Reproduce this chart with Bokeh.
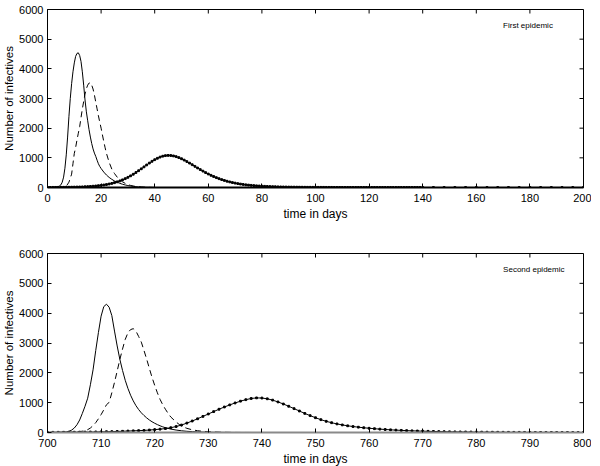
import math
from bokeh.plotting import figure
from bokeh.layouts import column
from bokeh.models import Label, FixedTicker, Range1d
from bokeh.embed import file_html
from bokeh.resources import INLINE

# ---------------- First epidemic (days 0-200) ----------------
t1_solid = [0, 1, 2, 3, 4, 4.5, 5, 5.5, 6, 6.5, 7, 7.5, 8, 8.5, 9, 9.5, 10, 10.5, 11, 11.5,
            12, 12.5, 13, 13.5, 14, 14.5, 15, 15.5, 16, 16.5, 17, 17.5, 18, 18.5, 19, 19.5, 20,
            21, 22, 23, 24, 25, 26, 27, 28, 29, 30, 31, 32, 33, 34, 35, 36, 37, 38, 39, 40]
i1_solid = [1, 2, 4, 10, 30, 55, 90, 180, 350, 650, 1100, 1700, 2400, 3000, 3500, 3900, 4200, 4420, 4520, 4540,
            4450, 4250, 3900, 3450, 2950, 2550, 2250, 1950, 1700, 1480, 1300, 1160, 1050, 920, 800, 710, 640,
            520, 420, 340, 275, 220, 180, 140, 110, 85, 65, 50, 38, 28, 20, 14, 10, 7, 5, 3, 2]

t1_dash = [0, 1, 2, 3, 4, 5, 6, 7, 8, 9, 9.5, 10, 10.5, 11, 11.5, 12, 12.5, 13, 13.5, 14, 14.5,
           15, 15.5, 16, 16.5, 17, 17.5, 18, 18.5, 19, 19.5, 20, 20.5, 21, 21.5, 22,
           23, 24, 25, 26, 27, 28, 29, 30, 31, 32, 33, 34, 35, 36, 37, 38, 39, 40]
i1_dash = [0, 0, 1, 1, 2, 4, 10, 40, 180, 450, 800, 1150, 1350, 1600, 1830, 2050, 2350, 2650, 2900, 3150, 3330,
           3450, 3520, 3530, 3450, 3320, 3120, 2880, 2650, 2420, 2200, 2000, 1770, 1550, 1340, 1150,
           850, 620, 470, 350, 260, 190, 140, 100, 70, 50, 35, 25, 17, 12, 8, 5, 3, 2]

t1_mark = list(range(0, 141)) + list(range(144, 201, 4))
i1_mark = [3, 3, 4, 4, 5, 6, 7, 8, 9, 11,
           13, 15, 18, 21, 25, 30, 36, 43, 51, 61,
           72, 85, 100, 118, 138, 162, 190, 222, 258, 298,
           343, 393, 447, 505, 566, 630, 695, 760, 823, 883,
           937, 985, 1025, 1055, 1074, 1082, 1078, 1064, 1040, 1008,
           969, 924, 875, 822, 768, 713, 658, 604, 552, 502,
           455, 411, 370, 332, 297, 266, 237, 211, 188, 167,
           148, 131, 116, 103, 91, 81, 72, 64, 57, 51,
           45, 40, 36, 32, 28, 25, 22, 20, 18, 16,
           14, 13, 12, 11, 10, 9, 8, 7, 7, 6,
           6, 5, 5, 5, 4, 4, 4, 3, 3, 3,
           3, 2, 2, 2, 2, 2, 2, 2, 2, 2,
           1, 1, 1, 1, 1, 1, 1, 1, 1, 1,
           1, 1, 1, 1, 1, 1, 1, 1, 1, 1,
           1,
           1, 1, 1, 1, 0, 0, 0, 0, 0, 0, 0, 0, 0, 0, 0]

# ---------------- Second epidemic (days 700-800) ----------------
t2_solid = [700, 701, 702, 703, 703.5, 704, 704.5, 705, 705.5, 706, 706.5, 707, 707.5, 708, 708.5,
            709, 709.5, 710, 710.5, 711, 711.5, 712, 712.5, 713, 713.5, 714, 714.5, 715, 715.5,
            716, 716.5, 717, 717.5, 718, 718.5, 719, 719.5, 720, 720.5, 721, 721.5, 722,
            723, 724, 725, 726, 727, 728, 729, 730, 731, 732, 733, 734, 735, 740]
i2_solid = [2, 3, 5, 10, 20, 40, 80, 150, 260, 420, 640, 880, 1150, 1600, 2100,
            2750, 3350, 3900, 4220, 4300, 4200, 3920, 3400, 2900, 2450, 2080, 1750, 1480, 1250,
            1060, 900, 770, 660, 570, 490, 420, 360, 310, 265, 225, 190, 160,
            115, 82, 58, 40, 28, 20, 14, 10, 7, 5, 3, 2, 1, 0]

t2_dash = [700, 701, 702, 703, 704, 705, 706, 707, 707.5, 708, 708.5, 709, 709.5, 710, 710.5,
           711, 711.5, 712, 712.5, 713, 713.5, 714, 714.5, 715, 715.5, 716, 716.5, 717, 717.5,
           718, 718.5, 719, 719.5, 720, 720.5, 721, 721.5, 722, 722.5, 723,
           724, 725, 726, 727, 728, 729, 730, 731, 732, 733, 734, 735, 736, 740]
i2_dash = [1, 2, 3, 5, 8, 14, 28, 60, 95, 150, 230, 330, 460, 600, 760,
           930, 1010, 1330, 1680, 2060, 2450, 2800, 3120, 3340, 3450, 3480, 3400, 3220, 3030,
           2750, 2460, 2150, 1850, 1580, 1330, 1110, 930, 780, 640, 520,
           350, 210, 140, 90, 60, 38, 25, 16, 10, 6, 4, 2, 1, 0]

t2_mark = list(range(700, 801))
i2_mark = [5, 6, 7, 8, 9, 10, 12, 14, 16, 19,
           22, 26, 30, 35, 41, 48, 56, 62, 70, 82,
           96, 112, 132, 160, 200, 250, 315, 385, 460, 540,
           620, 700, 780, 855, 925, 990, 1050, 1100, 1140, 1160,
           1155, 1130, 1085, 1025, 955, 880, 800, 720, 640, 565,
           495, 430, 375, 328, 288, 254, 225, 200, 178, 159,
           142, 127, 113, 101, 90, 80, 71, 63, 56, 50,
           44, 39, 35, 31, 27, 24, 21, 19, 17, 15,
           13, 12, 10, 9, 8, 7, 6, 5, 5, 4,
           4, 3, 3, 3, 2, 2, 2, 2, 1, 1,
           1]

y_ticks = [0, 1000, 2000, 3000, 4000, 5000, 6000]
x1_ticks = [0, 20, 40, 60, 80, 100, 120, 140, 160, 180, 200]
x2_ticks = [700, 710, 720, 730, 740, 750, 760, 770, 780, 790, 800]
y_range = (0, 6000)

FONT = "Liberation Sans"


def make_fig(xr, xticks, border_top, border_bottom, frame_h, bottom_axis_color):
    p = figure(frame_width=536, frame_height=frame_h,
               x_range=Range1d(*xr), y_range=Range1d(*y_range),
               output_backend="svg", toolbar_location=None,
               min_border_left=40, min_border_right=8,
               min_border_top=border_top, min_border_bottom=border_bottom)
    p.grid.visible = False
    p.outline_line_color = "black"
    p.outline_line_width = 1
    p.background_fill_color = "white"
    p.border_fill_color = "white"

    for ax in p.xaxis:
        ax.ticker = FixedTicker(ticks=xticks)
        ax.axis_line_color = bottom_axis_color
        ax.axis_line_width = 2
    for ax in p.yaxis:
        ax.ticker = FixedTicker(ticks=y_ticks)
    for ax in list(p.xaxis) + list(p.yaxis):
        ax.major_tick_in = 4
        ax.major_tick_out = 0
        ax.minor_tick_line_color = None
        ax.major_label_text_font = FONT
        ax.major_label_text_font_size = "11px"
        ax.major_label_text_color = "black"
        ax.axis_label_text_font = FONT
        ax.axis_label_text_font_size = "12px"
        ax.axis_label_text_font_style = "normal"
        ax.axis_label_text_color = "black"
    p.xaxis.axis_label = "time in days"
    p.xaxis.major_label_standoff = 6
    p.xaxis.axis_label_standoff = 2
    p.yaxis.axis_label = "Number of infectives"
    p.yaxis.major_label_standoff = 4
    p.yaxis.axis_label_standoff = 1
    p.yaxis.axis_label_text_font_size = "11.5px"

    # inward ticks on the top and right edges of the frame
    p.ray(x=xticks, y=[y_range[1]] * len(xticks), length=4, length_units="screen",
          angle=-math.pi / 2, line_color="black", line_width=1)
    p.ray(x=[xr[1]] * len(y_ticks), y=y_ticks, length=4, length_units="screen",
          angle=math.pi, line_color="black", line_width=1)
    return p


p1 = make_fig((0, 200), x1_ticks, 9, 36, 178, "black")
p1.line(t1_solid, i1_solid, line_color="black", line_width=1)
p1.line(t1_dash, i1_dash, line_color="black", line_width=1, line_dash="6 4")
p1.line(t1_mark, i1_mark, line_color="black", line_width=1)
p1.scatter(t1_mark, i1_mark, marker="square", size=1.8, color="black")
p1.add_layout(Label(x=170, y=5600, text="First epidemic", text_font=FONT,
                    text_font_size="8px", text_baseline="top", text_color="black"))

p2 = make_fig((700, 800), x2_ticks, 30, 30, 179, "#8a8a8a")
p2.line(t2_solid, i2_solid, line_color="black", line_width=1)
p2.line(t2_dash, i2_dash, line_color="black", line_width=1, line_dash="6 4")
p2.line(t2_mark, i2_mark, line_color="black", line_width=1)
p2.scatter(t2_mark, i2_mark, marker="square", size=1.8, color="black")
p2.add_layout(Label(x=785, y=5600, text="Second epidemic", text_font=FONT,
                    text_font_size="8px", text_baseline="top", text_color="black"))

layout = column(p1, p2)
open("out.html", "w").write(file_html(layout, INLINE))
